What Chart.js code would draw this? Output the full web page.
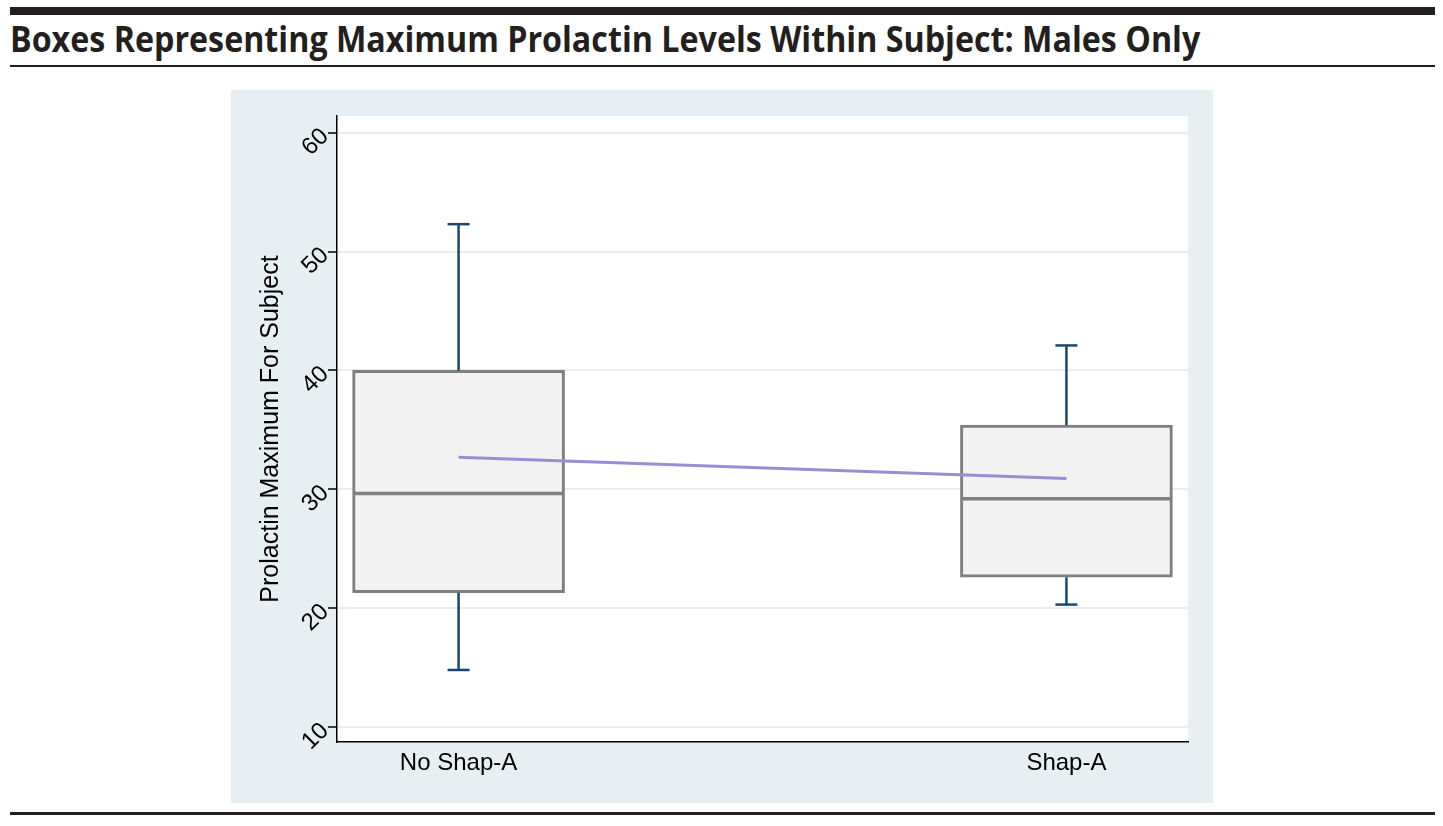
<!DOCTYPE html>
<html>
<head>
<meta charset="utf-8">
<script src="https://cdn.jsdelivr.net/npm/chart.js@4"></script>
<style>
  body { margin: 0; width: 1443px; height: 826px; background: #fff; position: relative; overflow: hidden; }
  .rule { position: absolute; left: 10px; width: 1425px; background: #231f20; }
  #title { position: absolute; left: 10px; top: 19px; font-family: 'Open Sans', sans-serif; font-weight: 700;
           font-size: 35px; line-height: 40px; color: #231f20; white-space: nowrap; transform-origin: left top; }
  #panel { position: absolute; left: 231px; top: 90px; width: 982px; height: 713px; background: #e8eff2; }
</style>
</head>
<body>
<div class="rule" style="top:7px;height:8px"></div>
<div id="title">Boxes Representing Maximum Prolactin Levels Within Subject: Males Only</div>
<div class="rule" style="top:65px;height:2px"></div>
<div id="panel"><canvas id="boxChart"></canvas></div>
<div class="rule" style="top:812px;height:3px"></div>
<script>
const groups = ['No Shap-A', 'Shap-A'];
const groupPos = [0, 1];
const whiskerLow = [14.8, 20.3];
const boxLow = [21.3, 22.6];
const medians = [29.65, 29.2];
const boxHigh = [40.0, 35.4];
const whiskerHigh = [52.3, 42.1];
const means = [32.7, 30.9];
const yTicks = [10, 20, 30, 40, 50, 60];

// squeeze the title to the width it has in the original
const title = document.getElementById('title');
title.style.transform = 'scaleX(' + (1190 / title.offsetWidth) + ')';

const axisFont = { family: "'Liberation Sans', Arial, sans-serif", size: 24 };
const edge = '#7f7f7f';
const navy = '#1a476f';

const plotBg = {
  id: 'plotBg',
  beforeDraw(chart) {
    const { ctx, chartArea: a } = chart;
    ctx.save();
    ctx.fillStyle = '#fff';
    ctx.fillRect(a.left, a.top, a.width, a.height);
    ctx.restore();
  }
};

const stems = groupPos.flatMap((x, i) => [
  [{ x, y: whiskerLow[i] }, { x, y: boxLow[i] }],
  [{ x, y: boxHigh[i] }, { x, y: whiskerHigh[i] }]
]).map(d => ({
  type: 'line', data: d, borderColor: navy, borderWidth: 2.5, pointRadius: 0, order: 2
}));

new Chart(document.getElementById('boxChart'), {
  type: 'bar',
  data: {
    datasets: [
      {
        type: 'line',
        data: groupPos.map((x, i) => ({ x, y: means[i] })),
        borderColor: '#9590d3', borderWidth: 3, pointRadius: 0, order: 0
      },
      {
        type: 'scatter', showLine: false,
        data: groupPos.map((x, i) => ({ x, y: medians[i] })),
        pointStyle: 'line', pointRadius: 105, borderColor: edge, borderWidth: 3.5, order: 1
      },
      {
        type: 'scatter', showLine: false,
        data: groupPos.flatMap((x, i) => [{ x, y: whiskerLow[i] }, { x, y: whiskerHigh[i] }]),
        pointStyle: 'line', pointRadius: 11, borderColor: navy, borderWidth: 2.5, order: 1
      },
      ...stems,
      {
        type: 'bar',
        data: groupPos.map((x, i) => ({ x, y: [boxLow[i], boxHigh[i]] })),
        backgroundColor: '#f2f2f2', borderColor: edge, borderWidth: 3,
        borderSkipped: false, barThickness: 212, order: 3
      }
    ]
  },
  options: {
    responsive: true,
    maintainAspectRatio: false,
    animation: false,
    events: [],
    layout: { autoPadding: false, padding: { top: 26, right: 25, left: 0, bottom: 0 } },
    plugins: { legend: { display: false }, tooltip: { enabled: false } },
    scales: {
      x: {
        type: 'linear', min: -0.2, max: 1.2, offset: false,
        afterBuildTicks: s => { s.ticks = groupPos.map(v => ({ value: v })); },
        ticks: {
          callback: v => groups[groupPos.indexOf(v)] ?? '',
          font: axisFont, color: '#000', padding: 7, autoSkip: false, maxRotation: 0
        },
        grid: { display: false, drawTicks: false, offset: false },
        border: { color: '#000', width: 1.5 },
        afterFit: s => { s.height = 61; s.paddingLeft = 0; s.paddingRight = 0; }
      },
      y: {
        min: 8.74, max: 61.4,
        afterBuildTicks: s => { s.ticks = yTicks.map(v => ({ value: v })); },
        ticks: { minRotation: 45, maxRotation: 45, font: axisFont, color: '#000', padding: 3 },
        grid: { color: '#e6eef1', lineWidth: 2, tickColor: '#000', tickLength: 9, tickWidth: 1.5 },
        border: { color: '#000', width: 1.5 },
        title: {
          display: true, text: 'Prolactin Maximum For Subject', color: '#000',
          font: { family: "'Liberation Sans', Arial, sans-serif", size: 25 },
          padding: { top: 25, bottom: 0 }
        },
        afterFit: s => { s.width = 106; s.paddingTop = 0; s.paddingBottom = 0; }
      }
    }
  },
  plugins: [plotBg]
});
</script>
</body>
</html>
